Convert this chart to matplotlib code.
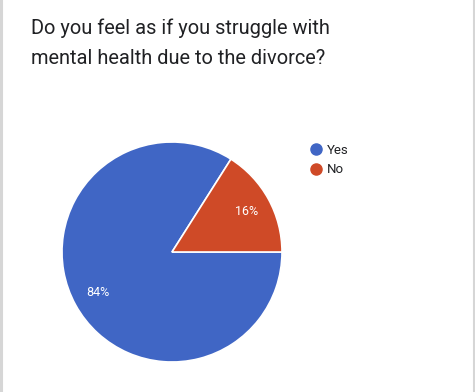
import matplotlib
matplotlib.use("Agg")
import matplotlib.pyplot as plt
from matplotlib.lines import Line2D

# data
labels = ["Yes", "No"]
shares = [84, 16]
colors = ["#4066c5", "#cf4a27"]
title = "Do you feel as if you struggle with\nmental health due to the divorce?"

W, H = 475, 392
fig = plt.figure(figsize=(W / 100, H / 100), dpi=100)
fig.patch.set_facecolor("white")

# pie axes: center (172, 252), radius ~110 px
cx, cy, r = 172, 252, 110
ax = fig.add_axes([(cx - r) / W, (H - cy - r) / H, 2 * r / W, 2 * r / H])
start = 360 * shares[1] / sum(shares)
wedges, texts, autotexts = ax.pie(
    shares, colors=colors, startangle=start, counterclock=True,
    autopct="%d%%", pctdistance=0.77, radius=1,
    wedgeprops=dict(edgecolor="white", linewidth=1.2),
    textprops=dict(color="white", fontsize=9, family="Roboto"),
)
ax.set_xlim(-1, 1)
ax.set_ylim(-1, 1)
ax.set_aspect("equal")
ax.axis("off")

fig.text(31 / W, 1 - 18 / H, title, ha="left", va="top",
         fontsize=14.4, color="#202124", family="Roboto", linespacing=1.75)

handles = [Line2D([], [], marker="o", linestyle="none", markersize=8,
                  markerfacecolor=c, markeredgecolor=c) for c in colors]
fig.legend(handles, labels, loc="upper left",
           bbox_to_anchor=(301 / W, 1 - 137 / H), frameon=False,
           handletextpad=0.25, labelspacing=0.5,
           handlelength=1.2, borderpad=0, labelcolor="#202124",
           prop=dict(family="Roboto", size=9.5))

# light gray side borders of the card
for x in (1 / W, 1 - 1.5 / W):
    fig.add_artist(Line2D([x, x], [0, 1], color="#d6d6d6", linewidth=2.2,
                          transform=fig.transFigure))

fig.savefig("out.png", dpi=100, facecolor="white")
